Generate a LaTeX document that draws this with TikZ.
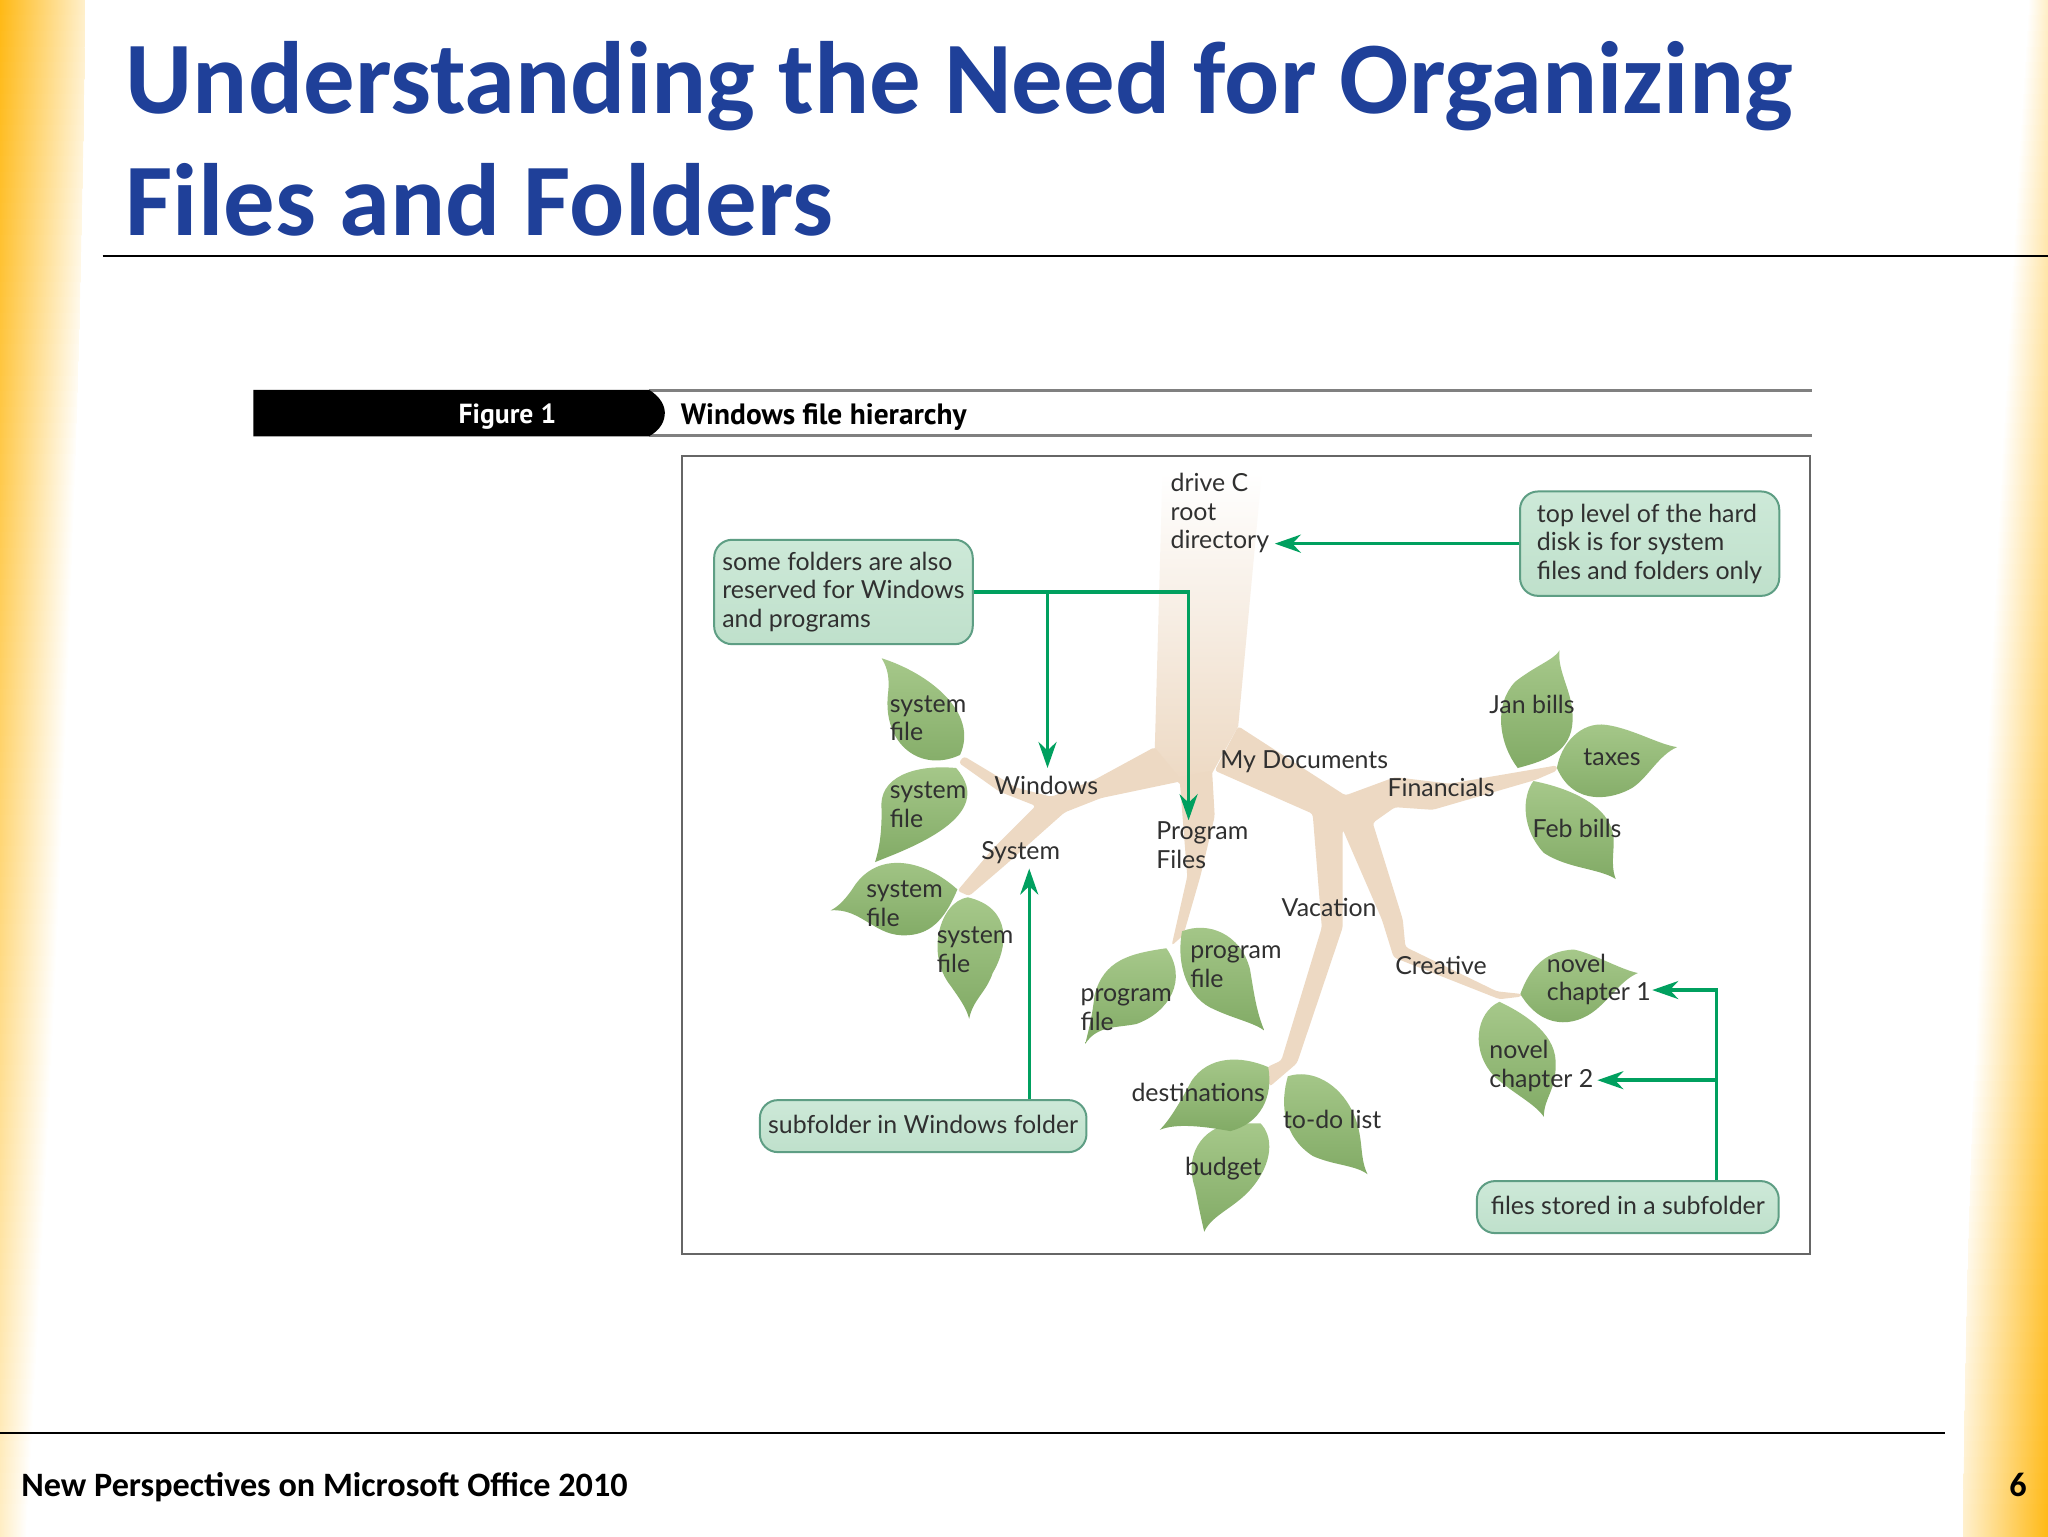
\documentclass[tikz,border=0pt]{standalone}
\usepackage{fontspec}
\setmainfont{Lato}
\newfontfamily\titlefont{Carlito}[BoldFont={Carlito Bold}]
\newfontfamily\figfont{PT Sans}
\usetikzlibrary{arrows.meta,calc}
\definecolor{bandC}{HTML}{FFB915}
\definecolor{titleC}{HTML}{1F4099}
\definecolor{treeC}{HTML}{EDD9C3}
\definecolor{leafT}{HTML}{A6C88A}
\definecolor{leafB}{HTML}{82AB66}
\definecolor{calloutT}{HTML}{CDE9D8}
\definecolor{calloutB}{HTML}{BFE0CB}
\definecolor{calloutD}{HTML}{5E9E84}
\definecolor{arrowC}{HTML}{00A05F}
\definecolor{textC}{HTML}{303030}
\newcommand{\lblfont}{\fontsize{12.45}{14.3}\selectfont}
\tikzset{
  leaf/.style={top color=leafT,bottom color=leafB,draw=none},
  tree/.style={fill=treeC,draw=none,rounded corners=1.5pt},
  lbl/.style={font=\lblfont,align=left,anchor=west,inner sep=0pt,text=textC},
  callout/.style={draw=calloutD,line width=1pt,rounded corners=9pt,top color=calloutT,bottom color=calloutB,anchor=north west,inner sep=0pt,font=\lblfont,align=left,text=textC},
  arrowline/.style={draw=arrowC,line width=1.7pt,-{Stealth[length=13pt,width=9pt]}},
  rulefig/.style={draw=black!50,line width=1.3pt}
}
\begin{document}
\begin{tikzpicture}[x=0.65306pt,y=-0.65306pt]
\useasboundingbox (0,0) rectangle (1568,1176);
\fill[white] (0,0) rectangle (1568,1176);
% side bands
\foreach \i in {0,...,97}{
  \pgfmathsetmacro{\ya}{\i*12}
  \pgfmathsetmacro{\yb}{\i*12+12.6}
  \pgfmathsetmacro{\t}{(\i+0.5)/98}
  \pgfmathsetmacro{\wl}{65-45*\t^1.5}
  \pgfmathsetmacro{\pl}{100-75*\t}
  \pgfmathsetmacro{\ql}{max(0,22-70*\t)}
  \shade[left color=bandC!\pl!white,right color=bandC!\ql!white,draw=none] (0,\ya) rectangle (\wl,\yb);
  \pgfmathsetmacro{\s}{1-\t}
  \pgfmathsetmacro{\wr}{1568-65+50*\s^1.5}
  \pgfmathsetmacro{\pr}{100-75*\s}
  \pgfmathsetmacro{\qr}{max(0,22-70*\s)}
  \shade[left color=bandC!\qr!white,right color=bandC!\pr!white,draw=none] (\wr,\ya) rectangle (1568,\yb);
}
% title and rules
\node[anchor=base west,inner sep=0pt,font=\titlefont\bfseries\fontsize{51.4}{61}\selectfont,text=titleC] (title1) at (96,87) {Understanding the Need for Organizing};
\node[anchor=base west,inner sep=0pt,font=\titlefont\bfseries\fontsize{51.4}{61}\selectfont,text=titleC] (title2) at (96,180) {Files and Folders};
\draw[black,line width=1pt] (78.5,196) -- (1568,196);
\draw[black,line width=1pt] (0,1097) -- (1489,1097);
\node[anchor=base west,inner sep=0pt,font=\titlefont\bfseries\fontsize{17.1}{19}\selectfont,text=black] (foot) at (16,1146) {New Perspectives on Microsoft Office 2010};
\node[anchor=base east,inner sep=0pt,font=\titlefont\bfseries\fontsize{17.1}{19}\selectfont,text=black] (pagenum) at (1552,1146) {6};
% figure header
\draw[rulefig] (497,299) -- (1387,299);
\draw[rulefig] (497,333.5) -- (1387,333.5);
\fill[black] (194,298.5) -- (497,298.5) .. controls (506,304) and (509,311) .. (509,316) .. controls (509,322) and (506,329) .. (497,334) -- (194,334) -- cycle;
\node[inner sep=0pt,font=\figfont\bfseries\fontsize{13.8}{15}\selectfont,text=white] (figlabel) at (388.5,319) {Figure 1};
\node[anchor=west,inner sep=0pt,font=\figfont\bfseries\fontsize{14.7}{16}\selectfont,text=black] (figtitle) at (521,319) {Windows file hierarchy};
\draw[draw=black!60,line width=1.1pt] (522,349) rectangle (1386,960);
% tree
\shade[top color=white,bottom color=treeC,draw=none] (890,362) -- (966,362) -- (948,556) -- (928,592) -- (903,600) -- (884,578) -- cycle;
\fill[tree] (903,595) -- (928,590) -- (930,625) -- (919,671) -- (906,716) -- (897,724) -- (909,671) -- cycle;
\fill[tree] (884,572) -- (838,597) -- (805,610) -- (778,603) -- (738,579) -- (734,584) -- (765,606) -- (793,617) -- (760,650) -- (733,682) -- (742,686) -- (770,662) -- (815,622) -- (843,611) -- (905,598) -- cycle;
\fill[tree] (948,556) -- (1030,609) -- (1068,595) -- (1110,600) -- (1192,586) -- (1192,590) -- (1176,597) -- (1097,620) -- (1068,618) -- (1051,630) -- (1074,704) -- (1076,725) -- (1146,759) -- (1165,761) -- (1165,763) -- (1148,765) -- (1067,733) -- (1058,704) -- (1028,635) -- (1028,710) -- (993,814) -- (972,832) -- (970,817) -- (981,812) -- (1012,710) -- (1005,623) -- (930,590) -- cycle;
% leaves
\shade[leaf] (735,578) .. controls (705,592) and (675,570) .. (680,530) .. controls (681,520) and (680,512) .. (675,504) .. controls (710,515) and (750,545) .. (735,578) -- cycle;
\shade[leaf] (732,588) .. controls (700,585) and (672,595) .. (675,620) .. controls (675,640) and (673,650) .. (670,660) .. controls (695,650) and (765,625) .. (732,588) -- cycle;
\shade[leaf] (733,681) .. controls (710,660) and (675,650) .. (655,677) .. controls (648,688) and (642,694) .. (636,697) .. controls (660,695) and (670,718) .. (695,716) .. controls (715,715) and (725,700) .. (733,681) -- cycle;
\shade[leaf] (741,687) .. controls (720,690) and (708,730) .. (728,755) .. controls (735,765) and (740,772) .. (742,780) .. controls (745,765) and (755,760) .. (760,745) .. controls (772,725) and (775,695) .. (741,687) -- cycle;
\shade[leaf] (893,726) .. controls (865,730) and (845,735) .. (838,762) .. controls (836,780) and (833,790) .. (831,799) .. controls (840,785) and (855,787) .. (870,784) .. controls (895,775) and (910,750) .. (893,726) -- cycle;
\shade[leaf] (905,713) .. controls (900,740) and (910,765) .. (930,773) .. controls (945,780) and (960,783) .. (968,789) .. controls (962,775) and (960,760) .. (957,742) .. controls (950,715) and (925,705) .. (905,713) -- cycle;
\shade[leaf] (948,860) .. controls (925,860) and (905,880) .. (915,910) .. controls (918,925) and (920,935) .. (922,943) .. controls (928,930) and (945,925) .. (958,910) .. controls (975,890) and (975,870) .. (965,860) -- cycle;
\shade[leaf] (971,817) .. controls (950,808) and (925,808) .. (912,828) .. controls (903,845) and (895,858) .. (888,865) .. controls (900,860) and (920,862) .. (942,866) .. controls (965,860) and (975,840) .. (971,817) -- cycle;
\shade[leaf] (986,824) .. controls (980,845) and (982,870) .. (1005,885) .. controls (1020,892) and (1038,892) .. (1047,899) .. controls (1040,885) and (1045,870) .. (1035,850) .. controls (1025,830) and (1005,818) .. (986,824) -- cycle;
\shade[leaf] (1162,588) .. controls (1148,570) and (1143,540) .. (1160,522) .. controls (1175,510) and (1190,505) .. (1194,498) .. controls (1192,515) and (1205,530) .. (1204,552) .. controls (1203,575) and (1185,582) .. (1162,588) -- cycle;
\shade[leaf] (1174,598) .. controls (1165,610) and (1165,635) .. (1182,653) .. controls (1200,665) and (1225,665) .. (1237,673) .. controls (1232,660) and (1238,645) .. (1234,635) .. controls (1228,615) and (1200,603) .. (1174,598) -- cycle;
\shade[leaf] (1192,588) .. controls (1195,570) and (1210,552) .. (1230,555) .. controls (1250,558) and (1270,570) .. (1284,572) .. controls (1270,578) and (1262,595) .. (1250,603) .. controls (1235,612) and (1205,618) .. (1192,588) -- cycle;
\shade[leaf] (1164,761) .. controls (1170,745) and (1180,728) .. (1205,727) .. controls (1220,730) and (1240,742) .. (1254,745) .. controls (1242,750) and (1235,762) .. (1222,773) .. controls (1205,787) and (1180,788) .. (1164,761) -- cycle;
\shade[leaf] (1148,767) .. controls (1130,775) and (1125,805) .. (1145,825) .. controls (1160,838) and (1175,845) .. (1182,855) .. controls (1182,840) and (1192,835) .. (1191,812) .. controls (1190,790) and (1165,775) .. (1148,767) -- cycle;
% labels
\node[lbl] (rootdir) at (896,393) {drive C\\root\\directory};
\node[lbl] (sys1) at (681,550) {system\\file};
\node[lbl] (sys2) at (681,616) {system\\file};
\node[lbl] (sys3) at (663,692) {system\\file};
\node[lbl] (sys4) at (717,727) {system\\file};
\node[lbl] (windows) at (761,601) {Windows};
\node[lbl] (system) at (751,653) {System};
\node[lbl] (progfiles) at (885,647) {Program\\Files};
\node[lbl] (mydocs) at (934,583) {My Documents};
\node[lbl] (financials) at (1062,603) {Financials};
\node[lbl] (janbills) at (1140,539) {Jan bills};
\node[lbl] (taxes) at (1212,580) {taxes};
\node[lbl] (febbills) at (1173,634) {Feb bills};
\node[lbl] (vacation) at (981,695) {Vacation};
\node[lbl] (creative) at (1068,739) {Creative};
\node[lbl] (novel1) at (1184,750) {novel\\chapter 1};
\node[lbl] (novel2) at (1140,816) {novel\\chapter 2};
\node[lbl] (prog1) at (911,740) {program\\file};
\node[lbl] (prog2) at (827,773) {program\\file};
\node[lbl] (dest) at (866,836) {destinations};
\node[lbl] (todo) at (982,857) {to-do list};
\node[lbl] (budget) at (907,895) {budget};
% callouts
\node[callout,minimum width=129.3pt,minimum height=52.2pt] (calA) at (546,412.5) {some folders are also\\reserved for Windows\\and programs};
\node[callout,minimum width=129.6pt,minimum height=52.2pt] (calB) at (1163,375.5) {top level of the hard\\disk is for system\\files and folders only};
\node[callout,minimum width=163.3pt,minimum height=26pt] (calC) at (581,841.5) {\raisebox{1.5pt}{subfolder in Windows folder}};
\node[callout,minimum width=150.9pt,minimum height=26pt] (calD) at (1130,903.5) {\raisebox{1.5pt}{files stored in a subfolder}};
% arrow ends
\coordinate (rootTip) at (976,416);
\coordinate (winTip) at (802,588);
\coordinate (progTip) at (910,628);
\coordinate (sysTip) at (788,665);
\coordinate (nov1Tip) at (1265,758);
\coordinate (nov2Tip) at (1223,827);
\coordinate (corner) at (1314,758);
\draw[arrowline] (calB.west) -- (calB.west -| rootTip);
\draw[arrowline] (calA.east) -| (progTip);
\draw[arrowline] (calA.east -| winTip) -- (winTip);
\draw[arrowline] (calC.north -| sysTip) -- (sysTip);
\draw[arrowline] (calD.north -| corner) |- (nov1Tip);
\draw[arrowline] (corner |- nov2Tip) -- (nov2Tip);
\end{tikzpicture}
\end{document}
